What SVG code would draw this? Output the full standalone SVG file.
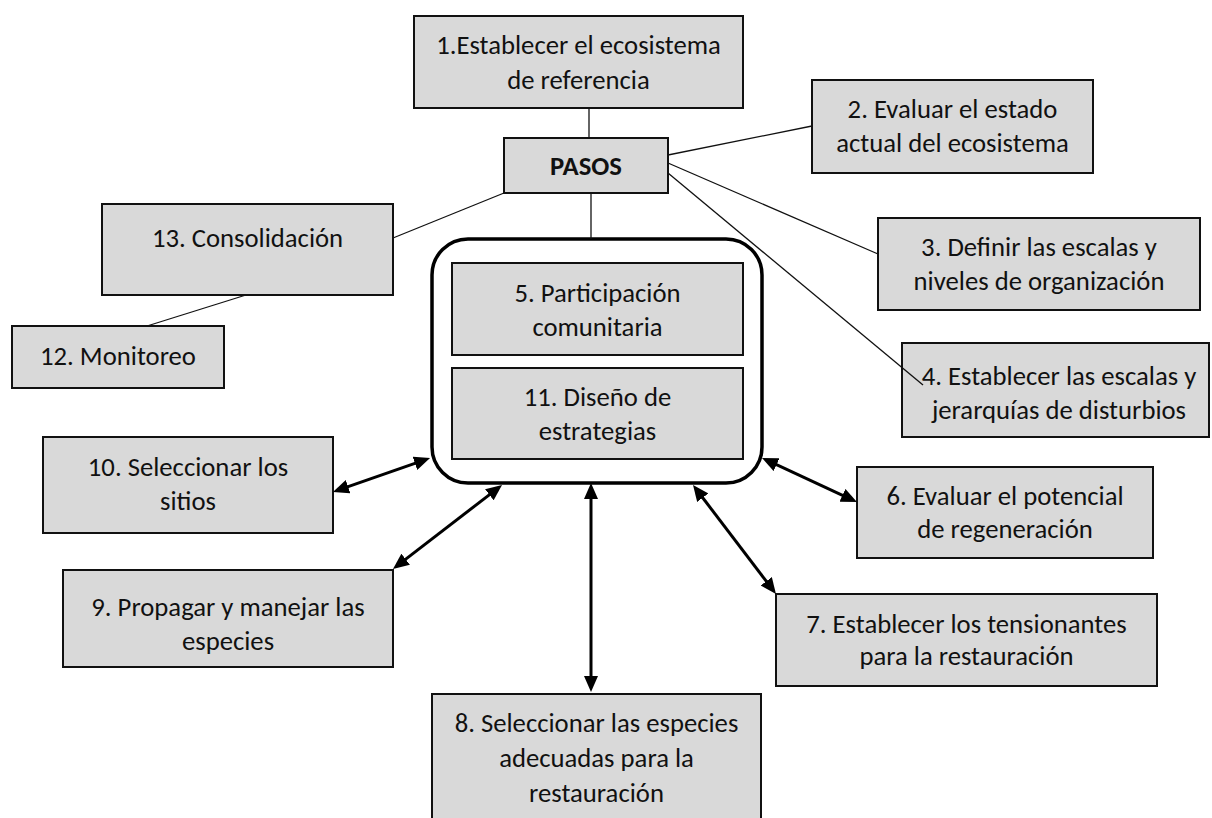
<svg xmlns="http://www.w3.org/2000/svg" width="1212" height="818" viewBox="0 0 1212 818">
<style>
.box{fill:#d9d9d9;stroke:#111;stroke-width:2}
.t{font-family:Carlito,Calibri,Lato,"Liberation Sans",sans-serif;font-size:26.7px;fill:#111;text-anchor:middle}
.b{font-weight:bold}
.thin{stroke:#111;stroke-width:1.3;fill:none}
.arr{stroke:#000;stroke-width:3;fill:none;marker-start:url(#ah);marker-end:url(#ah)}
</style>
<defs>
<marker id="ah" viewBox="0 0 16 14" markerWidth="16" markerHeight="14" refX="6" refY="7" orient="auto-start-reverse" markerUnits="userSpaceOnUse">
<path d="M0,0 L16,7 L0,14 z" fill="#000"/>
</marker>
</defs>
<rect width="1212" height="818" fill="#fff"/>
<g id="n1"><rect class="box" x="414" y="16" width="329" height="92"/>
<text class="t" x="578.5" y="54">1.Establecer el ecosistema</text>
<text class="t" x="578.5" y="89">de referencia</text></g>
<g id="pasos"><rect class="box" x="504" y="138" width="164" height="55"/>
<text class="t b" x="586" y="175">PASOS</text></g>
<g id="n2"><rect class="box" x="812" y="80" width="281" height="93"/>
<text class="t" x="952.5" y="118">2. Evaluar el estado</text>
<text class="t" x="952.5" y="152">actual del ecosistema</text></g>
<g id="n3"><rect class="box" x="878" y="218" width="322" height="92"/>
<text class="t" x="1039" y="256">3. Definir las escalas y</text>
<text class="t" x="1039" y="290">niveles de organización</text></g>
<g id="n4"><rect class="box" x="902" y="343" width="307" height="94"/>
<text class="t" x="1059" y="385">4. Establecer las escalas y</text>
<text class="t" x="1059" y="419">jerarquías de disturbios</text></g>
<g id="n13"><rect class="box" x="102" y="204" width="291" height="91"/>
<text class="t" x="247.5" y="247">13. Consolidación</text></g>
<g id="n12"><rect class="box" x="12" y="326" width="212" height="62"/>
<text class="t" x="118" y="365">12. Monitoreo</text></g>
<g id="grupo"><rect x="432" y="239" width="330" height="244" rx="36" ry="36" fill="#fff" stroke="#000" stroke-width="3.5"/>
<g id="n5"><rect class="box" x="452" y="263" width="291" height="92"/>
<text class="t" x="597.5" y="302">5. Participación</text>
<text class="t" x="597.5" y="336">comunitaria</text></g>
<g id="n11"><rect class="box" x="452" y="368" width="291" height="91"/>
<text class="t" x="597.5" y="406">11. Diseño de</text>
<text class="t" x="597.5" y="440">estrategias</text></g></g>
<g id="n10"><rect class="box" x="43" y="437" width="290" height="96"/>
<text class="t" x="188" y="476">10. Seleccionar los</text>
<text class="t" x="188" y="510">sitios</text></g>
<g id="n9"><rect class="box" x="63" y="570" width="330" height="97"/>
<text class="t" x="228" y="616">9. Propagar y manejar las</text>
<text class="t" x="228" y="650">especies</text></g>
<g id="n6"><rect class="box" x="857" y="467" width="296" height="91"/>
<text class="t" x="1005" y="505">6. Evaluar el potencial</text>
<text class="t" x="1005" y="538">de regeneración</text></g>
<g id="n7"><rect class="box" x="776" y="594" width="381" height="92"/>
<text class="t" x="966.5" y="633">7. Establecer los tensionantes</text>
<text class="t" x="966.5" y="665">para la restauración</text></g>
<g id="n8"><rect class="box" x="432" y="694" width="329" height="140"/>
<text class="t" x="596.5" y="732">8. Seleccionar las especies</text>
<text class="t" x="596.5" y="767">adecuadas para la</text>
<text class="t" x="596.5" y="802">restauración</text></g>
<g id="connectors">
<line class="thin" x1="589" y1="108" x2="589" y2="138"/>
<line class="thin" x1="591" y1="193" x2="591" y2="239"/>
<line class="thin" x1="668" y1="155" x2="812" y2="126"/>
<line class="thin" x1="668" y1="163" x2="878" y2="254"/>
<line class="thin" x1="668" y1="173" x2="923" y2="385"/>
<line class="thin" x1="504" y1="193" x2="393" y2="238"/>
<line class="thin" x1="246" y1="295" x2="147" y2="326"/>
<line class="arr" x1="342.4" y1="488.7" x2="420.6" y2="461.3"/>
<line class="arr" x1="400.9" y1="562.9" x2="494.1" y2="491.1"/>
<line class="arr" x1="591" y1="493" x2="591" y2="682"/>
<line class="arr" x1="699.1" y1="493" x2="769.9" y2="586"/>
<line class="arr" x1="771.1" y1="462.2" x2="847.9" y2="497.8"/>
</g>
</svg>
